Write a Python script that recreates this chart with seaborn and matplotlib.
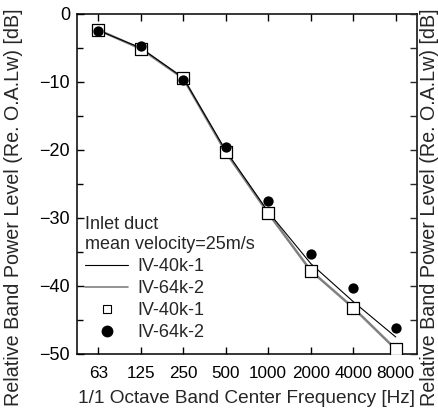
import matplotlib
matplotlib.use("Agg")
import matplotlib.pyplot as plt
import seaborn as sns
import pandas as pd
from matplotlib.lines import Line2D
from matplotlib.ticker import MultipleLocator

# ---- data ----
bands = ["63", "125", "250", "500", "1000", "2000", "4000", "8000"]
line_40k_1 = [-2.4, -5.0, -9.4, -20.1, -29.1, -36.7, -42.3, -47.5]
line_64k_2 = [-2.35, -5.1, -9.45, -20.3, -29.3, -37.75, -43.2, -49.3]
pts_40k_1 = [-2.35, -5.1, -9.45, -20.3, -29.3, -37.75, -43.2, -49.3]
pts_64k_2 = [-2.45, -4.75, -9.7, -19.5, -27.5, -35.3, -40.25, -46.2]
legend_labels = ["IV-40k-1", "IV-64k-2", "IV-40k-1", "IV-64k-2"]
legend_title = "Inlet duct\nmean velocity=25m/s"
xlabel = "1/1 Octave Band Center Frequency [Hz]"
ylabel = "Relative Band Power Level (Re. O.A.Lw) [dB]"

sns.set_theme(style="ticks")
plt.rcParams["font.family"] = ["Liberation Sans", "DejaVu Sans"]

df = pd.DataFrame({
    "band": bands,
    "l40": line_40k_1,
    "l64": line_64k_2,
    "p40": pts_40k_1,
    "p64": pts_64k_2,
})

fig = plt.figure(figsize=(4.39, 4.16), dpi=100)
ax = fig.add_axes([77 / 439, 62 / 416, 340 / 439, 340 / 416])

sns.lineplot(data=df, x="band", y="l64", ax=ax, color="#808080", lw=1.8, sort=False, zorder=2)
sns.lineplot(data=df, x="band", y="l40", ax=ax, color="black", lw=0.8, sort=False, zorder=3)
sns.scatterplot(data=df, x="band", y="p40", ax=ax, marker="s", s=80, facecolor="white",
                edgecolor="black", linewidth=0.9, zorder=4)
sns.scatterplot(data=df, x="band", y="p64", ax=ax, marker="o", s=55, color="black",
                edgecolor="black", linewidth=0, zorder=5)

ax.set_xlim(-0.5, 7.5)
ax.set_ylim(-50, 0)
ax.yaxis.set_major_locator(MultipleLocator(10))
ax.yaxis.set_minor_locator(MultipleLocator(5))
ax.tick_params(axis="both", which="both", direction="in", top=True, right=True,
               width=1.0, colors="black")
ax.tick_params(axis="both", which="major", length=5)
ax.tick_params(axis="y", which="minor", length=4)
ax.tick_params(axis="y", which="major", labelsize=13, pad=5)
ax.tick_params(axis="x", which="major", labelsize=12.3, pad=9)
for sp in ax.spines.values():
    sp.set_linewidth(1.1)
    sp.set_color("black")

ax.set_xlabel(xlabel, fontsize=13.7, labelpad=6)
ax.set_ylabel(ylabel, fontsize=14.2)
ax.yaxis.set_label_coords(-0.159, 0.432)

ax2 = ax.twinx()
ax2.set_ylim(-50, 0)
ax2.yaxis.set_major_locator(MultipleLocator(10))
ax2.yaxis.set_minor_locator(MultipleLocator(5))
ax2.tick_params(axis="y", which="both", direction="in", labelright=False, length=5, width=1.0)
ax2.set_ylabel(ylabel, fontsize=14.2)
ax2.yaxis.set_label_coords(1.008, 0.432)
for sp in ax2.spines.values():
    sp.set_visible(False)

handles = [
    Line2D([], [], color="black", lw=0.8),
    Line2D([], [], color="#808080", lw=1.2),
    Line2D([], [], color="black", marker="s", markersize=6, markerfacecolor="white",
           markeredgewidth=0.8, lw=0),
    Line2D([], [], color="black", marker="o", markersize=7.5, lw=0),
]
leg = ax.legend(handles, legend_labels, title=legend_title, loc="upper left",
                bbox_to_anchor=(85 / 439, 1 - 216 / 416), bbox_transform=fig.transFigure,
                frameon=False, fontsize=13, title_fontsize=13, alignment="left",
                handlelength=2.4, handletextpad=0.5, labelspacing=0.28,
                borderpad=0, borderaxespad=0)
leg.get_title().set_linespacing(1.25)

fig.savefig("out.png", dpi=100)
